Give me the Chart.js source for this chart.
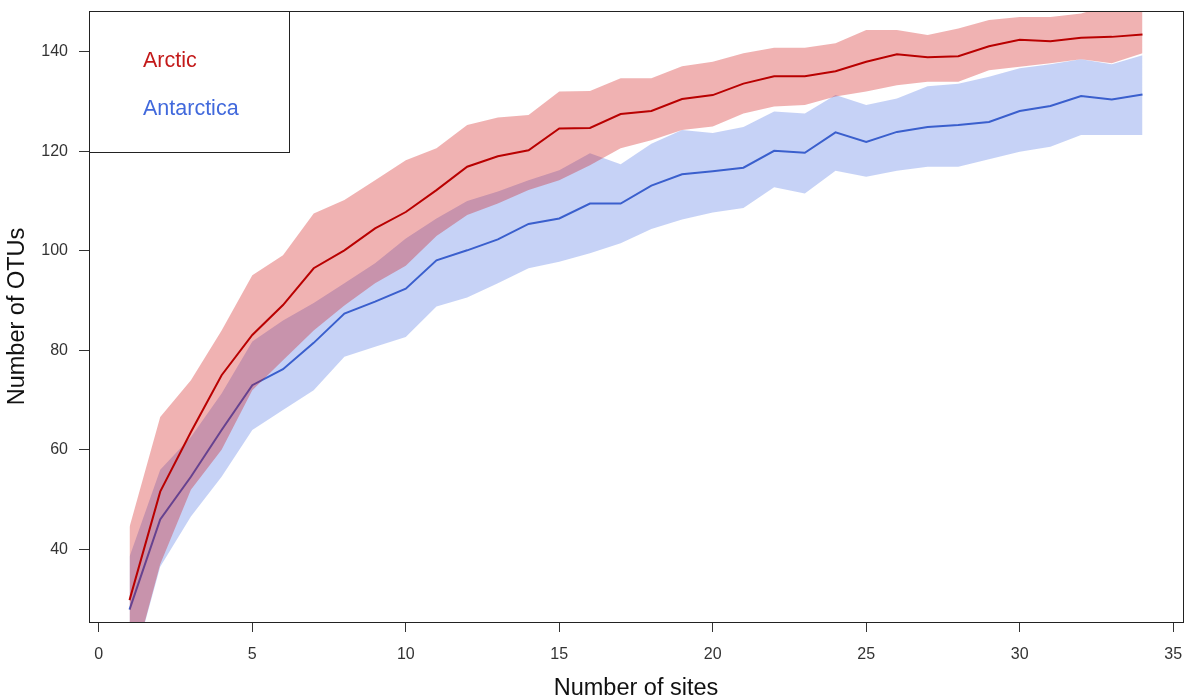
<!DOCTYPE html>
<html><head><meta charset="utf-8">
<script src="https://cdn.jsdelivr.net/npm/chart.js@4.4.1/dist/chart.umd.min.js"></script>
<style>html,body{margin:0;padding:0;background:#fff;} #wrap{width:1186px;height:699px;position:relative;}</style>
</head><body><div id="wrap"><canvas id="c" width="1186" height="699"></canvas></div>
<script>
const sites = [1,2,3,4,5,6,7,8,9,10,11,12,13,14,15,16,17,18,19,20,21,22,23,24,25,26,27,28,29,30,31,32,33,34];
const arcticMean = [29.8,51.6,63.6,75.0,83.1,89.1,96.5,100.1,104.5,107.8,112.2,116.9,119.0,120.2,124.6,124.7,127.5,128.1,130.5,131.3,133.6,135.1,135.1,136.1,138.0,139.5,138.9,139.1,141.1,142.4,142.1,142.8,143.0,143.5];
const arcticUpper = [44.5,66.6,74.0,84.0,95.1,99.1,107.5,110.2,114.2,118.2,120.6,125.3,126.8,127.3,132.0,132.1,134.7,134.7,137.1,138.0,139.7,140.8,140.8,141.7,144.4,144.4,143.4,144.7,146.4,147.0,147.0,147.7,149.5,150.0];
const arcticLower = [14.0,37.0,52.0,60.0,72.0,78.0,84.0,89.0,93.5,97.0,103.0,107.2,109.5,112.2,114.2,117.2,120.6,122.2,124.3,125.0,127.6,129.0,129.3,131.0,132.0,133.3,134.0,134.0,136.3,137.0,137.7,138.5,137.7,139.7];
const antarcticaMean = [27.9,46.0,54.6,64.0,73.0,76.2,81.5,87.4,89.8,92.4,98.1,100.1,102.3,105.4,106.5,109.5,109.5,113.1,115.4,116.0,116.7,120.1,119.7,123.8,121.9,123.9,124.9,125.3,125.9,128.1,129.1,131.1,130.4,131.4];
const antarcticaUpper = [38.5,56.0,62.6,71.3,81.8,86.0,89.5,93.5,97.5,102.5,106.5,110.0,111.9,114.2,116.2,119.6,117.4,121.5,124.3,123.7,124.9,128.0,127.6,131.3,129.3,130.6,133.1,133.6,135.0,136.7,137.5,138.5,137.5,139.3];
const antarcticaLower = [14.0,36.5,46.6,54.6,64.0,68.0,72.0,78.7,80.7,82.7,88.8,90.6,93.5,96.5,97.8,99.5,101.5,104.4,106.3,107.7,108.6,112.8,111.5,116.1,114.9,116.1,116.9,116.9,118.4,119.9,120.9,123.3,123.3,123.3];
const xTicks = [0,5,10,15,20,25,30,35];
const yTicks = [40,60,80,100,120,140];
const seriesNames = ['Arctic','Antarctica'];
const xTitle = 'Number of sites';
const yTitle = 'Number of OTUs';

const FONT = 'Liberation Sans, Arial, sans-serif';
function pts(ys){ return sites.map((x,i)=>({x:x, y:ys[i]})); }

const boxLegend = {
  id:'boxLegend',
  afterDraw(chart){
    const ctx = chart.ctx, a = chart.chartArea;
    ctx.save();
    ctx.strokeStyle = '#222'; ctx.lineWidth = 1;
    const L = Math.round(a.left)+0.5, T = Math.round(a.top)+0.5;
    ctx.strokeRect(L, T, Math.round(a.right)-Math.round(a.left), Math.round(a.bottom)-Math.round(a.top));
    ctx.strokeRect(L, T, 200, 141);
    ctx.font = '21.5px ' + FONT;
    ctx.textBaseline = 'middle'; ctx.textAlign = 'left';
    ctx.fillStyle = 'rgb(195,25,25)';
    ctx.fillText(seriesNames[0], a.left + 54, a.top + 50);
    ctx.fillStyle = 'rgb(65,105,220)';
    ctx.fillText(seriesNames[1], a.left + 54, a.top + 98);
    ctx.restore();
  }
};

new Chart(document.getElementById('c'), {
  type:'line',
  data:{ datasets:[
    {label:'Antarctica lower', data:pts(antarcticaLower), borderWidth:0, pointRadius:0, fill:false, order:6},
    {label:'Antarctica upper', data:pts(antarcticaUpper), borderWidth:0, pointRadius:0, fill:0, backgroundColor:'rgba(65,105,225,0.3)', order:5},
    {label:seriesNames[1], data:pts(antarcticaMean), borderColor:'rgb(58,95,205)', borderWidth:2, pointRadius:0, fill:false, order:4},
    {label:'Arctic lower', data:pts(arcticLower), borderWidth:0, pointRadius:0, fill:false, order:3},
    {label:'Arctic upper', data:pts(arcticUpper), borderWidth:0, pointRadius:0, fill:3, backgroundColor:'rgba(205,0,0,0.3)', order:2},
    {label:seriesNames[0], data:pts(arcticMean), borderColor:'rgb(185,0,0)', borderWidth:2, pointRadius:0, fill:false, order:1}
  ]},
  options:{
    responsive:false, animation:false, devicePixelRatio:1,
    layout:{padding:{top:11,right:3,left:0,bottom:0}},
    plugins:{legend:{display:false}, tooltip:{enabled:false}},
    elements:{line:{tension:0}},
    scales:{
      x:{type:'linear', min:-0.32, max:35.32,
        afterBuildTicks:s=>{ s.ticks = xTicks.map(v=>({value:v})); },
        afterFit:s=>{ s.height = 77; s.paddingLeft = 0; s.paddingRight = 0; },
        grid:{drawOnChartArea:false, drawTicks:true, tickLength:10, tickColor:'#333', color:'#333'},
        border:{display:false},
        ticks:{color:'#333', font:{family:FONT, size:16}, padding:13, maxRotation:0, autoSkip:false},
        title:{display:true, text:xTitle, color:'#111', font:{family:FONT, size:23.5, lineHeight:1}, padding:{top:0,bottom:-1}}
      },
      y:{type:'linear', min:25.4, max:148.2,
        afterBuildTicks:s=>{ s.ticks = yTicks.map(v=>({value:v})); },
        afterFit:s=>{ s.width = 89; s.paddingTop = 0; s.paddingBottom = 0; },
        grid:{drawOnChartArea:false, drawTicks:true, tickLength:10, tickColor:'#333', color:'#333'},
        border:{display:false},
        ticks:{color:'#333', font:{family:FONT, size:16}, padding:11, autoSkip:false},
        title:{display:true, text:yTitle, color:'#111', font:{family:FONT, size:23.5, lineHeight:1}, padding:{top:6,bottom:0}}
      }
    }
  },
  plugins:[boxLegend]
});
</script></body></html>
